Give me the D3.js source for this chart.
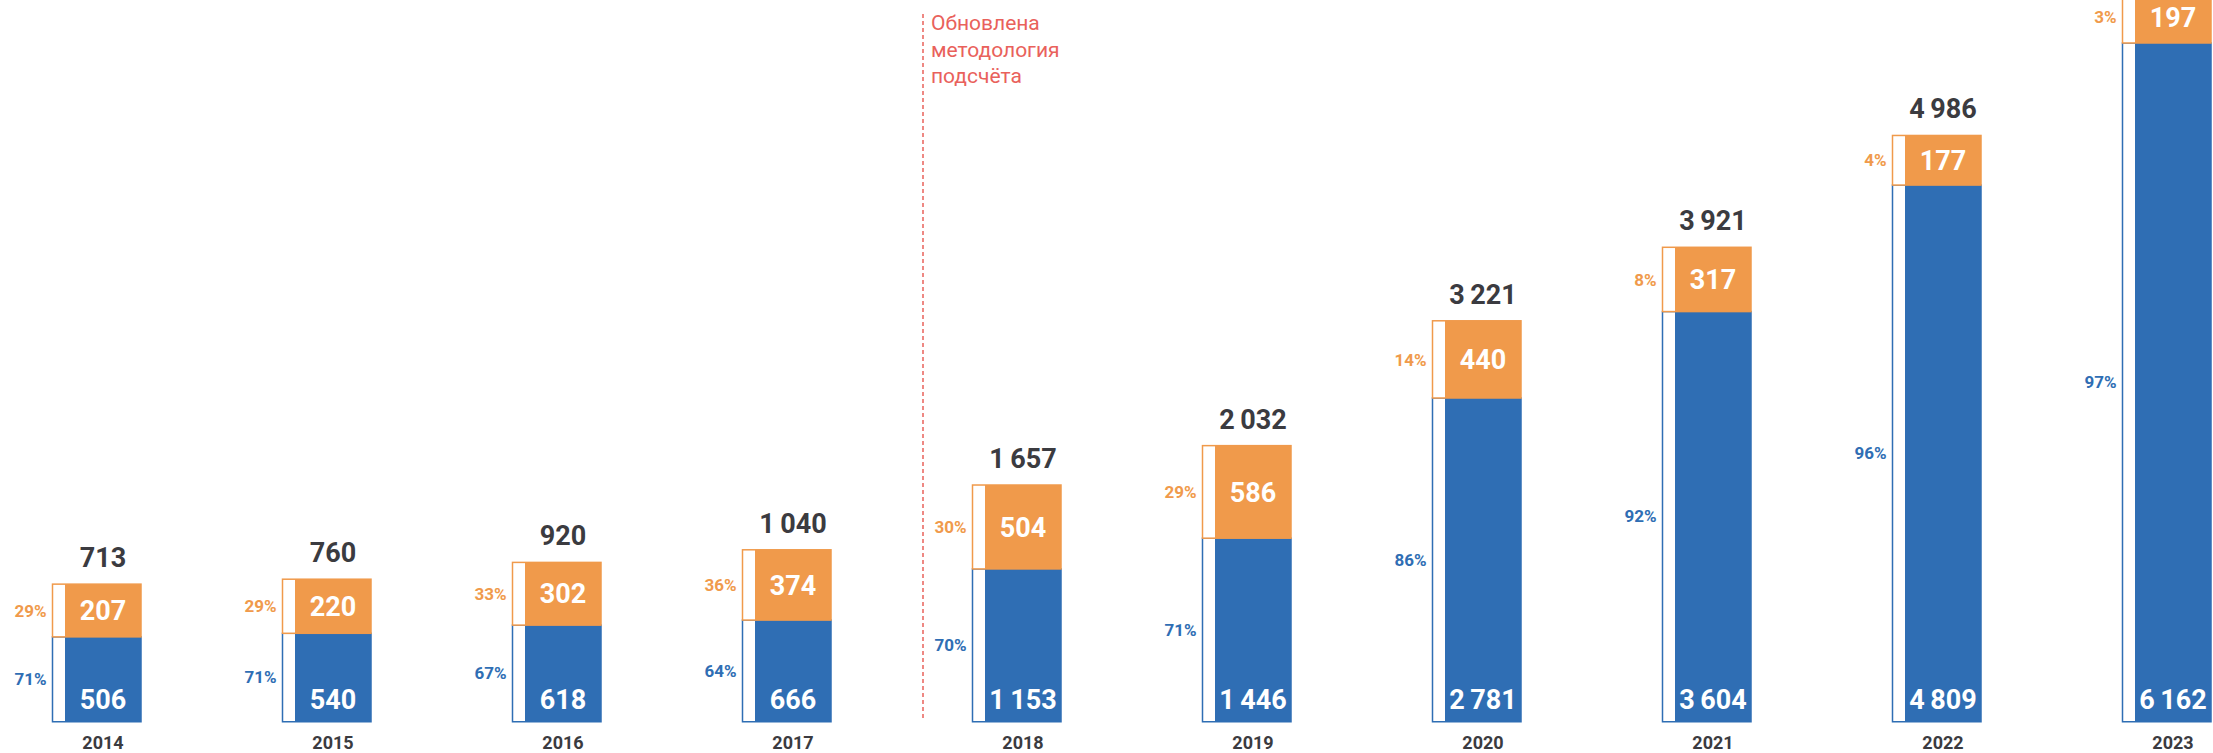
<!DOCTYPE html>
<html>
<head>
<meta charset="utf-8">
<script src="https://cdn.jsdelivr.net/npm/d3@7"></script>
<style>
  body { margin: 0; background: #fff; }
  svg { display: block; font-family: Roboto, "DejaVu Sans", sans-serif; }
</style>
</head>
<body>
<script>
// данные
const years = ["2014", "2015", "2016", "2017", "2018", "2019", "2020", "2021", "2022", "2023"];
const blueValues = [506, 540, 618, 666, 1153, 1446, 2781, 3604, 4809, 6162];
const orangeValues = [207, 220, 302, 374, 504, 586, 440, 317, 177, 197];
const totals = [713, 760, 920, 1040, 1657, 2032, 3221, 3921, 4986, 6359];
const bluePct = ["71%", "71%", "67%", "64%", "70%", "71%", "86%", "92%", "96%", "97%"];
const orangePct = ["29%", "29%", "33%", "36%", "30%", "29%", "14%", "8%", "4%", "3%"];
const noteYear = "2018";
const noteLines = ["Обновлена", "методология", "подсчёта"];

const width = 2213, height = 753;
const baseY = 721;      // низ столбцов
const pad = 31;         // минимальная высота сегмента
const barW = 76, stripW = 12.5;

const colors = { blue: "#2f6eb4", orange: "#f09a4b", text: "#3b3b40", note: "#e9615b" };

const fmt = d3.formatLocale({ decimal: ",", thousands: "\u2009", grouping: [3], currency: ["", ""] }).format(",d");

const svg = d3.select("body").append("svg")
    .attr("width", width)
    .attr("height", height);

const x = d3.scalePoint()
    .domain(years)
    .range([103, 2173]);

// длина сегмента
const len = d3.scaleLinear()
    .domain([0, 1000])
    .range([0, 105]);

const data = years.map((y, i) => {
    const bTop = baseY - (pad + len(blueValues[i]));
    const oTop = bTop - (pad + len(orangeValues[i]));
    return { year: y, blue: blueValues[i], orange: orangeValues[i], total: totals[i],
             bp: bluePct[i], op: orangePct[i], bTop, oTop };
});

// красная пунктирная линия и подпись
const noteX = x(noteYear) - 100;
svg.append("line")
    .attr("x1", noteX).attr("x2", noteX)
    .attr("y1", 14).attr("y2", baseY)
    .attr("stroke", colors.note)
    .attr("stroke-width", 1.5)
    .attr("stroke-dasharray", "4 3");

svg.append("text")
    .attr("x", noteX + 8)
    .attr("y", 30)
    .style("font-size", "21px")
    .attr("fill", colors.note)
    .selectAll("tspan")
    .data(noteLines)
    .enter().append("tspan")
    .attr("x", noteX + 8)
    .attr("dy", (d, i) => i === 0 ? 0 : 26.5)
    .text(d => d);

const g = svg.selectAll(".bar")
    .data(data)
    .enter().append("g")
    .attr("class", "bar");

// сегменты: контур + заливка
function segment(sel, topKey, bottomFn, color) {
    sel.append("rect")
        .attr("x", d => x(d.year) - barW / 2 - stripW)
        .attr("y", d => d[topKey])
        .attr("width", barW + stripW)
        .attr("height", d => bottomFn(d) - d[topKey])
        .attr("fill", "#fff")
        .attr("stroke", color)
        .attr("stroke-width", 1.5);
    sel.append("rect")
        .attr("x", d => x(d.year) - barW / 2)
        .attr("y", d => d[topKey])
        .attr("width", barW)
        .attr("height", d => bottomFn(d) - d[topKey])
        .attr("fill", color);
}
segment(g, "bTop", () => baseY + 0.75, colors.blue);
segment(g, "oTop", d => d.bTop, colors.orange);

// значения внутри
g.append("text")
    .attr("x", d => x(d.year))
    .attr("y", baseY - 12)
    .attr("text-anchor", "middle")
    .attr("fill", "#fff")
    .style("font-size", "27px")
    .style("font-weight", "bold")
    .text(d => fmt(d.blue));

g.append("text")
    .attr("x", d => x(d.year))
    .attr("y", d => (d.oTop + d.bTop) / 2)
    .attr("dy", "0.36em")
    .attr("text-anchor", "middle")
    .attr("fill", "#fff")
    .style("font-size", "27px")
    .style("font-weight", "bold")
    .text(d => fmt(d.orange));

// итог сверху (последний уходит за верхний край, как в оригинале)
g.filter(d => d.oTop - 17 > 20).append("text")
    .attr("x", d => x(d.year))
    .attr("y", d => d.oTop - 17)
    .attr("text-anchor", "middle")
    .attr("fill", colors.text)
    .style("font-size", "27px")
    .style("font-weight", "bold")
    .text(d => fmt(d.total));

// проценты слева
g.append("text")
    .attr("x", d => x(d.year) - barW / 2 - stripW - 6)
    .attr("y", d => (d.bTop + baseY) / 2)
    .attr("dy", "0.36em")
    .attr("text-anchor", "end")
    .attr("fill", colors.blue)
    .style("font-size", "17px")
    .style("font-weight", "bold")
    .text(d => d.bp);

g.append("text")
    .attr("x", d => x(d.year) - barW / 2 - stripW - 6)
    .attr("y", d => (d.oTop + d.bTop) / 2)
    .attr("dy", "0.36em")
    .attr("text-anchor", "end")
    .attr("fill", colors.orange)
    .style("font-size", "17px")
    .style("font-weight", "bold")
    .text(d => d.op);

// годы
g.append("text")
    .attr("x", d => x(d.year))
    .attr("y", 749)
    .attr("text-anchor", "middle")
    .attr("fill", colors.text)
    .style("font-size", "18px")
    .style("font-weight", "bold")
    .text(d => d.year);
</script>
</body>
</html>
